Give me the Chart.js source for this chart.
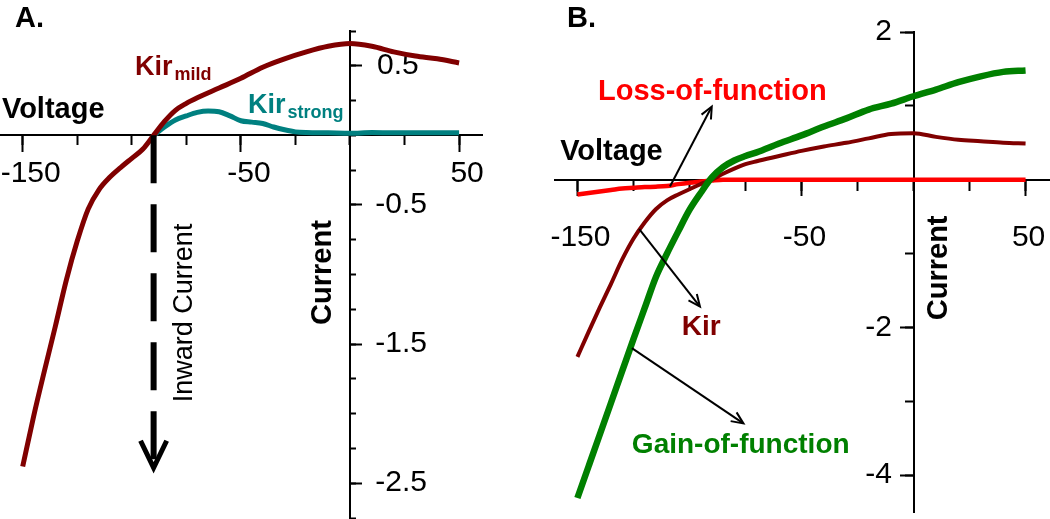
<!DOCTYPE html>
<html>
<head>
<meta charset="utf-8">
<script src="https://cdn.jsdelivr.net/npm/chart.js@4.4.1/dist/chart.umd.min.js"></script>
<style>
  html, body { margin: 0; padding: 0; background: #fff; }
  #wrap { position: relative; width: 1050px; height: 519px; overflow: hidden; }
  canvas { position: absolute; top: 0; }
  #panelA { left: 0; }
  #panelB { left: 525px; }
</style>
</head>
<body>
<div id="wrap">
  <canvas id="panelA" width="525" height="519"></canvas>
  <canvas id="panelB" width="525" height="519"></canvas>
</div>
<script>
// ---- panel A: Kir mild vs Kir strong ----
const voltageA = [-150, -145, -140, -135, -130, -125, -120, -115, -110, -105, -100, -95, -90, -85, -80, -75, -70, -60, -50, -40, -30, -20, -10, 0, 10, 20, 30, 40, 50];
const kirMild = [-2.38, -2.02, -1.69, -1.37, -1.04, -0.76, -0.53, -0.39, -0.30, -0.23, -0.165, -0.10, 0, 0.10, 0.18, 0.23, 0.27, 0.34, 0.41, 0.49, 0.55, 0.60, 0.64, 0.66, 0.64, 0.60, 0.57, 0.55, 0.52];
const voltageStrong = [-90, -85, -80, -75, -70, -65, -60, -55, -50, -45, -40, -35, -30, -25, -20, -10, 0, 10, 20, 30, 40, 50];
const kirStrong = [0, 0.06, 0.11, 0.14, 0.165, 0.175, 0.17, 0.14, 0.105, 0.095, 0.085, 0.06, 0.04, 0.025, 0.02, 0.018, 0.015, 0.02, 0.018, 0.018, 0.018, 0.018];

// ---- panel B: loss / gain of function ----
const voltageB = [-150, -145, -140, -135, -130, -125, -120, -115, -110, -105, -100, -95, -90, -85, -80, -75, -70, -60, -50, -40, -30, -20, -10, 0, 10, 20, 30, 40, 50];
const lossB = [-0.20, -0.18, -0.16, -0.14, -0.12, -0.11, -0.10, -0.095, -0.085, -0.06, -0.04, -0.025, -0.01, 0, 0, 0, 0, 0, 0, 0, 0, 0, 0, 0, 0, 0, 0, 0, 0];
const kirB = [-2.40, -2.06, -1.73, -1.41, -1.08, -0.80, -0.58, -0.40, -0.28, -0.20, -0.13, -0.06, 0, 0.08, 0.15, 0.21, 0.25, 0.32, 0.39, 0.45, 0.50, 0.56, 0.62, 0.63, 0.58, 0.54, 0.52, 0.50, 0.49];
const gainB = [-4.31, -3.88, -3.45, -3.02, -2.59, -2.16, -1.74, -1.32, -1.00, -0.70, -0.41, -0.18, 0.03, 0.17, 0.26, 0.32, 0.37, 0.49, 0.60, 0.72, 0.83, 0.95, 1.03, 1.13, 1.22, 1.32, 1.40, 1.46, 1.48];

// ticks
const xTicks = [-150, -125, -100, -75, -50, -25, 0, 25, 50];
const xLabels = [-150, -50, 50];
const yTicksA = [0.75, 0.5, 0.25, 0, -0.25, -0.5, -0.75, -1, -1.25, -1.5, -1.75, -2, -2.25, -2.5, -2.75];
const yLabelsA = [0.5, -0.5, -1.5, -2.5];
const yTicksB = [2, 1, 0, -1, -2, -3, -4];
const yLabelsB = [2, -2, -4];

const FONT = 'Arial, "Liberation Sans", sans-serif';
const MAROON = '#800000';
const TEAL = '#008080';
const GREEN = '#008000';
const RED = '#ff0000';

function pts(xs, ys) {
  return xs.map((x, i) => ({ x: x, y: ys[i] }));
}

// draws labels, arrows and panel letter using the chart's own scales
const annotate = {
  id: 'annotate',
  afterDatasetsDraw(chart, args, opts) {
    const ctx = chart.ctx;
    const sx = chart.scales.x, sy = chart.scales.y;
    const px = v => sx.getPixelForValue(v);
    const py = v => sy.getPixelForValue(v);
    ctx.save();

    (opts.arrows || []).forEach(a => {
      const x1 = px(a.from[0]), y1 = py(a.from[1]);
      const x2 = px(a.to[0]), y2 = py(a.to[1]);
      const ang = Math.atan2(y2 - y1, x2 - x1);
      ctx.strokeStyle = '#000';
      ctx.lineWidth = a.width;
      ctx.setLineDash(a.dash || []);
      ctx.lineCap = 'butt';
      ctx.beginPath();
      ctx.moveTo(x1, y1);
      ctx.lineTo(x2 - Math.cos(ang) * a.shorten, y2 - Math.sin(ang) * a.shorten);
      ctx.stroke();
      ctx.setLineDash([]);
      ctx.lineWidth = a.headWidth;
      ctx.lineJoin = 'miter';
      ctx.beginPath();
      ctx.moveTo(x2 - a.headLen * Math.cos(ang - a.headAng), y2 - a.headLen * Math.sin(ang - a.headAng));
      ctx.lineTo(x2, y2);
      ctx.lineTo(x2 - a.headLen * Math.cos(ang + a.headAng), y2 - a.headLen * Math.sin(ang + a.headAng));
      ctx.stroke();
    });

    (opts.texts || []).forEach(t => {
      const x = px(t.x), y = py(t.y);
      ctx.fillStyle = t.color || '#000';
      ctx.font = (t.weight || 'bold') + ' ' + t.size + 'px ' + FONT;
      if (t.rotate) {
        ctx.save();
        ctx.translate(x, y);
        ctx.rotate(-Math.PI / 2);
        ctx.textAlign = 'center';
        ctx.textBaseline = 'middle';
        ctx.fillText(t.text, 0, 0);
        ctx.restore();
        return;
      }
      ctx.textAlign = 'left';
      ctx.textBaseline = 'alphabetic';
      ctx.fillText(t.text, x, y);
      if (t.sub) {
        const w = ctx.measureText(t.text).width;
        ctx.font = 'bold ' + t.subSize + 'px ' + FONT;
        ctx.fillText(t.sub, x + w + 2, y + 5);
      }
    });

    if (opts.panel) {
      ctx.fillStyle = '#000';
      ctx.font = 'bold 29px ' + FONT;
      ctx.textAlign = 'left';
      ctx.textBaseline = 'alphabetic';
      ctx.fillText(opts.panel.text, opts.panel.left, opts.panel.baseline);
    }
    ctx.restore();
  }
};

function flatX(s) { s.height = 0; s.paddingLeft = 0; s.paddingRight = 0; s.paddingTop = 0; s.paddingBottom = 0; }
function flatY(s) { s.width = 0; s.paddingLeft = 0; s.paddingRight = 0; s.paddingTop = 0; s.paddingBottom = 0; }

function buildScales(o) {
  const tickFont = { family: FONT, size: 30 };
  return {
    x: {
      type: 'linear', position: { y: 0 }, min: o.xMin, max: o.xMax,
      afterBuildTicks: s => { s.ticks = xTicks.map(v => ({ value: v })); },
      afterFit: flatX,
      border: { display: true, color: '#000', width: 2 },
      grid: { drawOnChartArea: false, tickLength: o.xMinor, tickColor: '#000', tickWidth: 2 },
      ticks: { display: false }
    },
    xMajor: {
      type: 'linear', axis: 'x', position: { y: 0 }, min: o.xMin, max: o.xMax,
      afterBuildTicks: s => { s.ticks = xLabels.map(v => ({ value: v })); },
      afterFit: flatX,
      border: { display: false },
      grid: { drawOnChartArea: false, tickLength: o.xMajor, tickColor: '#000', tickWidth: 2 },
      ticks: { display: true, color: '#000', font: tickFont, padding: o.xPad, labelOffset: o.xShift,
        maxRotation: 0, autoSkip: false, callback: v => String(v) }
    },
    y: {
      type: 'linear', position: { x: 0 }, min: o.yMin, max: o.yMax,
      afterBuildTicks: s => { s.ticks = o.yTicks.map(v => ({ value: v })); },
      afterFit: flatY,
      border: { display: true, color: '#000', width: 2 },
      grid: { drawOnChartArea: false, tickLength: o.yMinor, tickColor: '#000', tickWidth: 2 },
      ticks: { display: false }
    },
    yMajor: {
      type: 'linear', axis: 'y', position: { x: 0 }, min: o.yMin, max: o.yMax,
      afterBuildTicks: s => { s.ticks = o.yLabels.map(v => ({ value: v })); },
      afterFit: flatY,
      border: { display: false },
      grid: { drawOnChartArea: false, tickLength: o.yMajor, tickColor: '#000', tickWidth: 2 },
      ticks: { display: false }
    },
    // label column of the current axis, right edge placed at x = labelAt
    yText: {
      type: 'linear', axis: 'y', position: { x: o.labelAt }, min: o.yMin, max: o.yMax,
      afterBuildTicks: s => { s.ticks = o.yLabels.map(v => ({ value: v })); },
      afterFit: flatY,
      border: { display: false },
      grid: { display: false, drawTicks: false },
      ticks: { display: true, color: '#000', font: tickFont, padding: 0, autoSkip: false,
        callback: v => String(v) + (v >= 0 && o.padPositive ? ' ' : '') }
    }
  };
}

function line(label, data, color, width, order) {
  return {
    label: label, data: data, borderColor: color, borderWidth: width,
    pointRadius: 0, fill: false, cubicInterpolationMode: 'monotone', order: order
  };
}

const common = {
  responsive: false,
  animation: false,
  events: [],
  plugins: { legend: { display: false }, tooltip: { enabled: false } }
};

new Chart(document.getElementById('panelA'), {
  type: 'line',
  data: {
    datasets: [
      line('Kir mild', pts(voltageA, kirMild), MAROON, 5, 0),
      line('Kir strong', pts(voltageStrong, kirStrong), TEAL, 5, 1)
    ]
  },
  options: Object.assign({}, common, {
    layout: { padding: { left: 0, right: 43, top: 31, bottom: 1 } },
    scales: buildScales({
      xMin: -160.4, xMax: 60.5, yMin: -2.75, yMax: 0.75,
      yTicks: yTicksA, yLabels: yLabelsA,
      xMinor: 9, xMajor: 17, xPad: 3, xShift: 8,
      yMinor: -7, yMajor: -12, labelAt: 35.3, padPositive: true
    }),
    plugins: Object.assign({}, common.plugins, {
      annotate: {
        panel: { text: 'A.', left: 15, baseline: 27 },
        arrows: [
          { from: [-90, 0], to: [-90, -2.389], width: 6, dash: [48, 21], shorten: 4, headLen: 30, headAng: 0.45, headWidth: 5 }
        ],
        texts: [
          { text: 'Voltage', x: -159.5, y: 0.123, size: 29 },
          { text: 'Kir', sub: 'mild', x: -98.5, y: 0.432, size: 27, subSize: 18, color: MAROON },
          { text: 'Kir', sub: 'strong', x: -46.7, y: 0.159, size: 27, subSize: 18, color: TEAL },
          { text: 'Inward Current', x: -76.05, y: -1.276, size: 27, weight: 'normal', rotate: true },
          { text: 'Current', x: -12.56, y: -0.986, size: 29, rotate: true }
        ]
      }
    })
  }),
  plugins: [annotate]
});

new Chart(document.getElementById('panelB'), {
  type: 'line',
  data: {
    datasets: [
      line('Gain-of-function', pts(voltageB, gainB), GREEN, 6.5, 0),
      line('Kir', pts(voltageB, kirB), MAROON, 4, 1),
      line('Loss-of-function', pts(voltageB, lossB), RED, 4.5, 2)
    ]
  },
  options: Object.assign({}, common, {
    layout: { padding: { left: 30, right: 0, top: 32, bottom: 7 } },
    scales: buildScales({
      xMin: -160, xMax: 60.9, yMin: -4.5, yMax: 2,
      yTicks: yTicksB, yLabels: yLabelsB,
      xMinor: 10, xMajor: 16, xPad: 24, xShift: 3,
      yMinor: 8, yMajor: 14, labelAt: -9.6, padPositive: false
    }),
    plugins: Object.assign({}, common.plugins, {
      annotate: {
        panel: { text: 'B.', left: 42, baseline: 27 },
        arrows: [
          { from: [-108.7, -0.092], to: [-90.05, 0.99], width: 2, shorten: 1, headLen: 13, headAng: 0.42, headWidth: 2 },
          { from: [-122.4, -0.669], to: [-95.3, -1.718], width: 2, shorten: 1, headLen: 13, headAng: 0.42, headWidth: 2 },
          { from: [-125.7, -2.28], to: [-75.9, -3.30], width: 2, shorten: 1, headLen: 13, headAng: 0.42, headWidth: 2 }
        ],
        texts: [
          { text: 'Loss-of-function', x: -140.8, y: 1.083, size: 29, color: RED },
          { text: 'Voltage', x: -157.7, y: 0.27, size: 29 },
          { text: 'Kir', x: -103.4, y: -2.10, size: 28, color: MAROON },
          { text: 'Gain-of-function', x: -125.7, y: -3.70, size: 28, color: GREEN },
          { text: 'Current', x: 11.2, y: -1.194, size: 29, rotate: true }
        ]
      }
    })
  }),
  plugins: [annotate]
});
</script>
</body>
</html>
